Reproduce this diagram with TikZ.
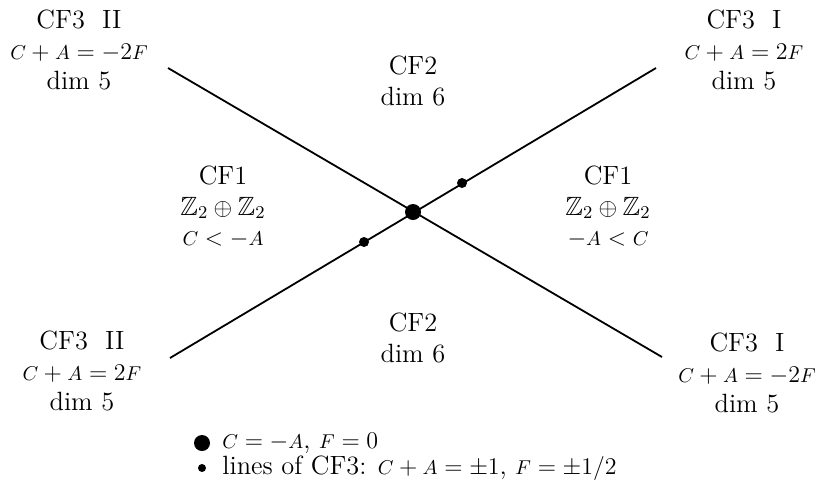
\documentclass[tikz,border=0pt]{standalone}
\usepackage{amssymb}
\newcommand{\sm}[1]{\mbox{\fontsize{10}{12}\selectfont$#1$}}
\begin{document}
\begin{tikzpicture}[x=0.5pt, y=-0.5pt,
    lbl/.style={align=center, font=\fontsize{13.2}{15.2}\selectfont, inner sep=0pt},
    bigdot/.style={circle, fill, inner sep=0pt, minimum size=8pt},
    smalldot/.style={circle, fill, inner sep=0pt, minimum size=5pt},
    wall/.style={line width=0.9pt}
]
    \useasboundingbox (0,0) rectangle (822,489);

    % Line ends and dots
    \coordinate (tl) at (168,68);
    \coordinate (br) at (662,357);
    \coordinate (bl) at (170,358);
    \coordinate (tr) at (656,68);
    \draw[wall] (tl) -- (br);
    \draw[wall] (bl) -- (tr);
    \node[bigdot] (origin) at (413,212) {};
    \node[smalldot] (dotup) at (462,183) {};
    \node[smalldot] (dotdown) at (364,242) {};

    % Regions
    \node[lbl] (cf3tl) at (79,50) {CF3\ \ II\\ $\sm{C}+\sm{A}=-2\sm{F}$\\ dim 5};
    \node[lbl] (cf3tr) at (744,50) {CF3\ \ I\\ $\sm{C}+\sm{A}=2\sm{F}$\\ dim 5};
    \node[lbl] (cf3bl) at (82,371) {CF3\ \ II\\ $\sm{C}+\sm{A}=2\sm{F}$\\ dim 5};
    \node[lbl] (cf3br) at (747,373) {CF3\ \ I\\ $\sm{C}+\sm{A}=-2\sm{F}$\\ dim 5};
    \node[lbl] (cf2top) at (413,81) {CF2\\ dim 6};
    \node[lbl] (cf2bot) at (413,338) {CF2\\ dim 6};
    \node[lbl] (cf1left) at (223,207) {CF1\\ $\mathbb{Z}_2\oplus\mathbb{Z}_2$\\ $\sm{C}<-\sm{A}$};
    \node[lbl] (cf1right) at (608,207) {CF1\\ $\mathbb{Z}_2\oplus\mathbb{Z}_2$\\ $-\sm{A}<\sm{C}$};

    % Legend
    \node[bigdot] (keybig) at (202,443) {};
    \node[smalldot, minimum size=4pt] (keysmall) at (202,468) {};
    \node[lbl, anchor=west] (keybigtext) at (222,443) {$\sm{C}=-\sm{A}$, $\sm{F}=0$};
    \node[lbl, anchor=west] (keysmalltext) at (222,468) {lines of CF3: $\sm{C}+\sm{A}=\pm1$, $\sm{F}=\pm1/2$};
\end{tikzpicture}
\end{document}
